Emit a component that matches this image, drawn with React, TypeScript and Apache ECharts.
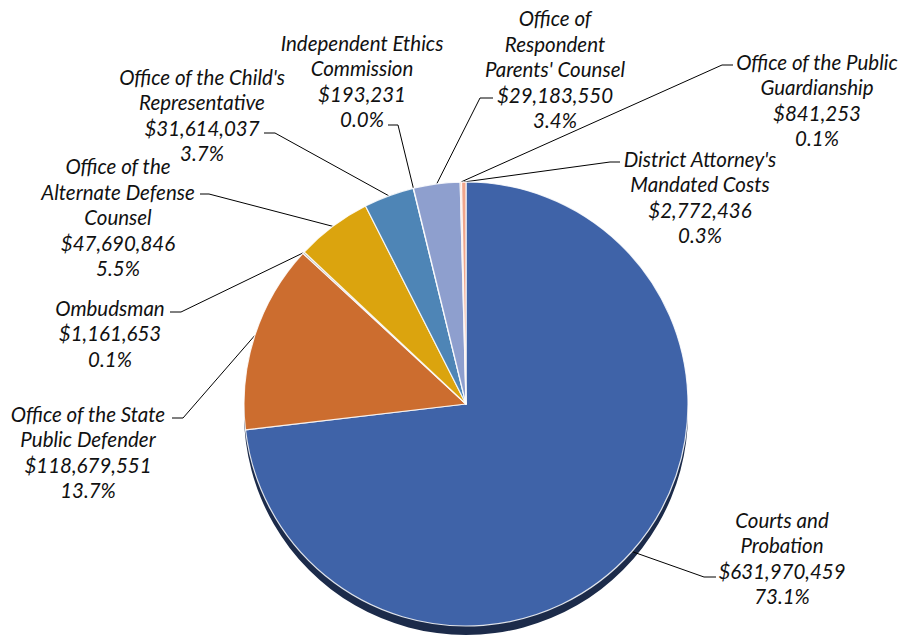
import React, { useEffect, useRef } from "react";
import * as echarts from "echarts";

// ---- data ----
const categories: string[] = [
  "Courts and Probation",
  "Office of the State Public Defender",
  "Ombudsman",
  "Office of the Alternate Defense Counsel",
  "Office of the Child's Representative",
  "Independent Ethics Commission",
  "Office of Respondent Parents' Counsel",
  "Office of the Public Guardianship",
  "District Attorney's Mandated Costs",
];
const amounts: number[] = [
  631970459, 118679551, 1161653, 47690846, 31614037, 193231, 29183550, 841253, 2772436,
];

// ---- styles / layout ----
const sliceColors: string[] = [
  "#3F63A8", "#CC6D2F", "#A5A5A5", "#DBA40E", "#4E85B6", "#C9D3E8", "#8E9FCE", "#E9855A", "#F0A68C",
];
// line breaks used when printing each name in its label
const nameBreaks: string[][] = [
  ["Courts and", "Probation"],
  ["Office of the State", "Public Defender"],
  ["Ombudsman"],
  ["Office of the", "Alternate Defense", "Counsel"],
  ["Office of the Child's", "Representative"],
  ["Independent Ethics", "Commission"],
  ["Office of", "Respondent", "Parents' Counsel"],
  ["Office of the Public", "Guardianship"],
  ["District Attorney's", "Mandated Costs"],
];
// label block centre and leader-line elbow/end points (layout only)
const labelBoxes: { x: number; y: number; elbow: number[]; end: number[] }[] = [
  { x: 782, y: 558, elbow: [704, 577], end: [716, 577] },
  { x: 88, y: 452, elbow: [183, 418], end: [172, 418] },
  { x: 110, y: 333, elbow: [181, 312], end: [170, 312] },
  { x: 118, y: 217, elbow: [209, 194], end: [200, 194] },
  { x: 202, y: 115, elbow: [275, 133], end: [264, 133] },
  { x: 362, y: 81, elbow: [398, 125], end: [388, 125] },
  { x: 555, y: 69, elbow: [480, 98], end: [493, 98] },
  { x: 817, y: 100, elbow: [722, 65], end: [733, 65] },
  { x: 700, y: 197, elbow: [610, 162], end: [620, 162] },
];

const CENTER = [466, 404];
const RADIUS = 222;
const SHADOW_DY = 9;

export default function App() {
  const ref = useRef<HTMLDivElement>(null);

  useEffect(() => {
    if (!ref.current) return;
    const chart = echarts.init(ref.current, null, { renderer: "svg" });
    const total = amounts.reduce((a, b) => a + b, 0);

    const anchorFor = (idx: number) => {
      let before = 0;
      for (let i = 0; i < idx; i++) before += amounts[i];
      const mid = (before + amounts[idx] / 2) / total;
      const ang = mid * Math.PI * 2;
      return [CENTER[0] + RADIUS * Math.sin(ang), CENTER[1] - RADIUS * Math.cos(ang)];
    };

    chart.setOption({
      animation: false,
      backgroundColor: "#ffffff",
      series: [
        {
          type: "pie",
          name: "shadow",
          silent: true,
          z: 1,
          center: [CENTER[0], CENTER[1] + SHADOW_DY],
          radius: RADIUS,
          label: { show: false },
          labelLine: { show: false },
          itemStyle: { color: "#1C2B4A", borderWidth: 0 },
          data: [{ value: total, name: "" }],
        },
        {
          type: "pie",
          name: "Budget",
          z: 2,
          center: CENTER,
          radius: RADIUS,
          startAngle: 90,
          clockwise: true,
          avoidLabelOverlap: false,
          minShowLabelAngle: 0,
          itemStyle: { borderColor: "rgba(255,255,255,0.85)", borderWidth: 1.2 },
          label: {
            show: true,
            position: "outer",
            alignTo: "none",
            color: "#111111",
            fontFamily: "Lato",
            fontStyle: "italic",
            fontSize: 20.5,
            lineHeight: 25.5,
            align: "center",
            formatter: (p: any) => {
              const idx = p.dataIndex;
              const pct = ((p.value / total) * 100).toFixed(1);
              return [
                ...nameBreaks[idx],
                "$" + Number(p.value).toLocaleString("en-US"),
                pct + "%",
              ].join("\n");
            },
          },
          labelLine: {
            show: true,
            smooth: false,
            length: 10,
            length2: 10,
            lineStyle: { color: "#000000", width: 1 },
          },
          labelLayout: (p: any) => {
            const b = labelBoxes[p.dataIndex];
            const anchor =
              p.labelLinePoints && p.labelLinePoints[0]
                ? p.labelLinePoints[0]
                : anchorFor(p.dataIndex);
            return {
              x: b.x,
              y: b.y,
              align: "center",
              verticalAlign: "middle",
              labelLinePoints: [anchor, b.elbow, b.end],
            };
          },
          data: categories.map((name, i) => ({
            name,
            value: amounts[i],
            itemStyle: { color: sliceColors[i] },
          })),
        },
      ],
    });

    return () => chart.dispose();
  }, []);

  return (
    <div
      ref={ref}
      style={{ position: "fixed", left: 0, top: 0, width: 907, height: 637, background: "#fff" }}
    />
  );
}
